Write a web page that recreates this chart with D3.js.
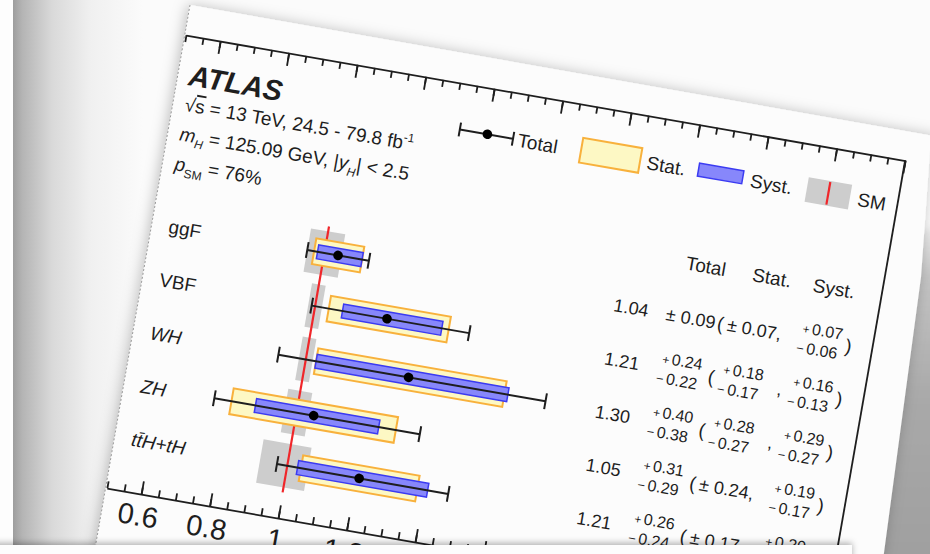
<!DOCTYPE html>
<html>
<head>
<meta charset="utf-8">
<script src="https://cdn.jsdelivr.net/npm/d3@7"></script>
<style>
  html, body { margin: 0; padding: 0; background: #fbfbfb; overflow: hidden; }
  svg text { font-family: "Liberation Sans", Arial, Helvetica, sans-serif; fill: #1e1e1e; }
</style>
</head>
<body>
<svg id="chart" width="930" height="554"></svg>
<script>
// Production-mode signal strengths, ATLAS Run 2 combination
const categories   = ["ggF", "VBF", "WH", "ZH", "ttH+tH"];
const centralValue = [1.04, 1.21, 1.30, 1.05, 1.21];
const totalUp      = [0.09, 0.24, 0.40, 0.31, 0.26];
const totalDown    = [0.09, 0.22, 0.38, 0.29, 0.24];
const statUp       = [0.07, 0.18, 0.28, 0.24, 0.17];
const statDown     = [0.07, 0.17, 0.27, 0.24, 0.17];
const systUp       = [0.07, 0.16, 0.29, 0.19, 0.20];
const systDown     = [0.06, 0.13, 0.27, 0.17, 0.18];
// SM prediction uncertainty around 1
const smUp         = [0.05, 0.02, 0.02, 0.035, 0.06];
const smDown       = [0.05, 0.02, 0.02, 0.035, 0.08];
const majorTicks   = [0.6, 0.8, 1, 1.2, 1.4, 1.6, 1.8, 2, 2.2, 2.4, 2.6];
const xDomain      = [0.5, 2.6];
const infoLines    = ["13 TeV, 24.5 - 79.8 fb", "125.09 GeV, |", "76%"];

const svg = d3.select("#chart");
const defs = svg.append("defs");

// ---------- paper / desk backdrop ----------
const lg = defs.append("linearGradient").attr("id", "leftShade").attr("x1", 0).attr("x2", 1).attr("y1", 0).attr("y2", 0);
[[0, "#9d9d9d"], [0.07, "#b4b4b4"], [0.3, "#d9d9d9"], [0.6, "#f0f0f0"], [1, "#fbfbfb"]]
  .forEach(([o, c]) => lg.append("stop").attr("offset", o).attr("stop-color", c));

const rg = defs.append("linearGradient").attr("id", "rightShade").attr("x1", 0).attr("x2", 0).attr("y1", 0).attr("y2", 1);
[[0, "#efefef"], [0.15, "#c4c4c4"], [0.5, "#a9a9a9"], [1, "#9f9f9f"]]
  .forEach(([o, c]) => rg.append("stop").attr("offset", o).attr("stop-color", c));

const shadow = defs.append("filter").attr("id", "pageShadow").attr("x", -0.2).attr("y", -0.2).attr("width", 1.4).attr("height", 1.4);
shadow.append("feDropShadow").attr("dx", -2).attr("dy", 0).attr("stdDeviation", 7)
  .attr("flood-color", "#000").attr("flood-opacity", 0.25);

const soft = defs.append("filter").attr("id", "soft").attr("x", -0.3).attr("y", -0.3).attr("width", 1.6).attr("height", 1.6);
soft.append("feGaussianBlur").attr("stdDeviation", 3);

const bandShadow = defs.append("filter").attr("id", "bandShadow").attr("x", -0.1).attr("y", -2).attr("width", 1.2).attr("height", 5);
bandShadow.append("feDropShadow").attr("dx", 0).attr("dy", -2).attr("stdDeviation", 3)
  .attr("flood-color", "#000").attr("flood-opacity", 0.3);

svg.append("rect").attr("width", 930).attr("height", 554).attr("fill", "#fbfbfb");
svg.append("rect").attr("x", 13).attr("width", 130).attr("height", 554).attr("fill", "url(#leftShade)");
svg.append("rect").attr("x", 0).attr("width", 13).attr("height", 554).attr("fill", "#fdfdfd");

svg.append("polygon")
  .attr("points", "905,235 940,225 940,570 865,570")
  .attr("fill", "url(#rightShade)")
  .attr("filter", "url(#soft)");

// the sheet carrying the figure
svg.append("polygon")
  .attr("points", "190,5 945,138 930,150 921,277 883,560 93,560")
  .attr("fill", "#fcfcfc")
  .attr("filter", "url(#pageShadow)");
svg.append("line")
  .attr("x1", 190).attr("y1", 5).attr("x2", 93).attr("y2", 560)
  .attr("stroke", "#9a9a9a").attr("stroke-width", 1).attr("stroke-dasharray", "2,2");

// ---------- figure, in its own frame ----------
const W = 730, H = 460;
const fig = svg.append("g").attr("transform", "translate(186,35) rotate(9.9)");

const x = d3.scaleLinear().domain(xDomain).range([0, W]);
const y = d3.scalePoint().domain(categories).range([191, 407]);
const minorTicks = d3.ticks(xDomain[0], xDomain[1], 42);
const fmtTick = d3.format("~g");
const fmt2 = d3.format(".2f");
const INK = "#1e1e1e";

function styleAxis(g) {
  g.selectAll("path, line").attr("stroke", INK).attr("stroke-width", 1.8);
}

// top edge
fig.append("g").call(d3.axisBottom(x).tickValues(minorTicks).tickSize(7).tickSizeOuter(0).tickFormat(""))
  .call(styleAxis);
fig.append("g").call(d3.axisBottom(x).tickValues(majorTicks).tickSize(13).tickSizeOuter(0).tickFormat(""))
  .call(styleAxis).select(".domain").remove();

// bottom edge with labels
fig.append("g").attr("transform", `translate(0,${H})`)
  .call(d3.axisBottom(x).tickValues(minorTicks).tickSize(-7).tickSizeOuter(0).tickFormat(""))
  .call(styleAxis);
const bottomAxis = fig.append("g").attr("transform", `translate(0,${H})`)
  .call(d3.axisBottom(x).tickValues(majorTicks).tickSize(-13).tickSizeOuter(0).tickPadding(11).tickFormat(fmtTick))
  .call(styleAxis);
bottomAxis.select(".domain").remove();
bottomAxis.selectAll("text").attr("font-size", 29).attr("fill", INK)
  .style("font-family", "'Liberation Sans', Arial, sans-serif");

// right edge
fig.append("line").attr("x1", W).attr("x2", W).attr("y1", 0).attr("y2", H)
  .attr("stroke", INK).attr("stroke-width", 1.8);

// ---------- rows ----------
const rows = categories.map((c, i) => ({
  cat: c, v: centralValue[i],
  tU: totalUp[i], tD: totalDown[i], sU: statUp[i], sD: statDown[i],
  yU: systUp[i], yD: systDown[i], mU: smUp[i], mD: smDown[i]
}));

// SM band
fig.selectAll("rect.sm").data(rows).join("rect").attr("class", "sm")
  .attr("x", d => x(1 - d.mD)).attr("width", d => x(1 + d.mU) - x(1 - d.mD))
  .attr("y", d => y(d.cat) - 22).attr("height", 44)
  .attr("fill", "#cdcdcd");

// SM line
fig.append("line")
  .attr("x1", x(1)).attr("x2", x(1))
  .attr("y1", y(categories[0]) - 27).attr("y2", y(categories[categories.length - 1]) + 27)
  .attr("stroke", "#f0262a").attr("stroke-width", 2.2);

// statistical
fig.selectAll("rect.stat").data(rows).join("rect").attr("class", "stat")
  .attr("x", d => x(d.v - d.sD)).attr("width", d => x(d.v + d.sU) - x(d.v - d.sD))
  .attr("y", d => y(d.cat) - 13).attr("height", 26)
  .attr("fill", "#fdf8c4").attr("stroke", "#f8b13c").attr("stroke-width", 2);

// systematic
fig.selectAll("rect.syst").data(rows).join("rect").attr("class", "syst")
  .attr("x", d => x(d.v - d.yD)).attr("width", d => x(d.v + d.yU) - x(d.v - d.yD))
  .attr("y", d => y(d.cat) - 7).attr("height", 14)
  .attr("fill", "#8787fb").attr("stroke", "#3b3bf2").attr("stroke-width", 1.5);

// total
const tot = fig.selectAll("g.tot").data(rows).join("g").attr("class", "tot");
tot.append("line")
  .attr("x1", d => x(d.v - d.tD)).attr("x2", d => x(d.v + d.tU))
  .attr("y1", d => y(d.cat)).attr("y2", d => y(d.cat))
  .attr("stroke", INK).attr("stroke-width", 2);
[["tD", -1], ["tU", 1]].forEach(([k, s]) => {
  tot.append("line")
    .attr("x1", d => x(d.v + s * d[k])).attr("x2", d => x(d.v + s * d[k]))
    .attr("y1", d => y(d.cat) - 8).attr("y2", d => y(d.cat) + 8)
    .attr("stroke", INK).attr("stroke-width", 2);
});
tot.append("circle").attr("cx", d => x(d.v)).attr("cy", d => y(d.cat)).attr("r", 4.8).attr("fill", "#000");

// row labels
fig.selectAll("text.cat").data(rows).join("text").attr("class", "cat")
  .attr("x", 16).attr("y", d => y(d.cat) + 7).attr("font-size", 19)
  .attr("font-style", d => (d.cat === "ggF" || d.cat === "VBF") ? "normal" : "italic")
  .text(d => d.cat === "ttH+tH" ? "tt\u0304H+tH" : d.cat);

// ---------- numbers column ----------
const U = { value: 503, total: 522, open: 573, stat: 584, comma: 643, syst: 655, close: 703 };
fig.append("text").attr("x", 552).attr("y", 145).attr("font-size", 19).attr("text-anchor", "middle").text("Total");
fig.append("text").attr("x", 619).attr("y", 145).attr("font-size", 19).attr("text-anchor", "middle").text("Stat.");
fig.append("text").attr("x", 682).attr("y", 145).attr("font-size", 19).attr("text-anchor", "middle").text("Syst.");

function errText(g, u, up, down, yc, trailing) {
  if (up === down) {
    g.append("text").attr("x", u - 1).attr("y", yc + 6.5).attr("font-size", 18)
      .text("\u00b1 " + fmt2(up) + (trailing || ""));
  } else {
    const sup = g.append("text").attr("x", u + 3).attr("y", yc - 4.5).attr("font-size", 16);
    sup.append("tspan").attr("font-size", 12).text("+\u2009");
    sup.append("tspan").text(fmt2(up));
    const sub = g.append("text").attr("x", u).attr("y", yc + 15.5).attr("font-size", 16);
    sub.append("tspan").attr("font-size", 13).text("\u2212\u2009");
    sub.append("tspan").text(fmt2(down));
    if (trailing) g.append("text").attr("x", U.comma).attr("y", yc + 7).attr("font-size", 18).text(trailing);
  }
}

rows.forEach(d => {
  const yc = y(d.cat) + 1;
  const g = fig.append("g");
  g.append("text").attr("x", U.value).attr("y", yc + 6.5).attr("font-size", 18)
    .attr("text-anchor", "end").text(fmt2(d.v));
  errText(g, U.total, d.tU, d.tD, yc, "");
  g.append("text").attr("x", U.open).attr("y", yc + 7).attr("font-size", 19).text("(");
  errText(g, U.stat, d.sU, d.sD, yc, ",");
  errText(g, U.syst, d.yU, d.yD, yc, "");
  g.append("text").attr("x", U.close).attr("y", yc + 7).attr("font-size", 19).text(")");
});

// ---------- ATLAS label and run conditions ----------
fig.append("text").attr("x", 10).attr("y", 49).attr("font-size", 29)
  .attr("font-weight", "bold").attr("font-style", "italic").text("ATLAS");

const l1 = fig.append("text").attr("x", 11).attr("y", 75).attr("font-size", 19);
l1.append("tspan").text("\u221a");
l1.append("tspan").style("text-decoration", "overline").text("s");
l1.append("tspan").text(" = " + infoLines[0]);
l1.append("tspan").attr("dy", -8).attr("font-size", 12).text("-1");

const l2 = fig.append("text").attr("x", 11).attr("y", 105).attr("font-size", 19);
l2.append("tspan").attr("font-style", "italic").text("m");
l2.append("tspan").attr("font-style", "italic").attr("font-size", 12).attr("dy", 5).text("H");
l2.append("tspan").attr("dy", -5).text(" = " + infoLines[1]);
l2.append("tspan").attr("font-style", "italic").text("y");
l2.append("tspan").attr("font-style", "italic").attr("font-size", 12).attr("dy", 6).text("H");
l2.append("tspan").attr("dy", -6).text("| < 2.5");

const l3 = fig.append("text").attr("x", 11).attr("y", 135).attr("font-size", 19);
l3.append("tspan").attr("font-style", "italic").text("p");
l3.append("tspan").attr("font-size", 12).attr("dy", 6).text("SM");
l3.append("tspan").attr("dy", -6).text(" = " + infoLines[2]);

// ---------- legend ----------
const leg = fig.append("g");
leg.append("line").attr("x1", 286).attr("x2", 340).attr("y1", 46).attr("y2", 46).attr("stroke", INK).attr("stroke-width", 2);
[286, 340].forEach(u => leg.append("line").attr("x1", u).attr("x2", u).attr("y1", 39).attr("y2", 53).attr("stroke", INK).attr("stroke-width", 2));
leg.append("circle").attr("cx", 314).attr("cy", 46).attr("r", 4.8).attr("fill", "#000");
leg.append("text").attr("x", 345).attr("y", 53).attr("font-size", 19).text("Total");

leg.append("rect").attr("x", 409).attr("y", 33).attr("width", 60).attr("height", 25)
  .attr("fill", "#fdf8c4").attr("stroke", "#f8b13c").attr("stroke-width", 2);
leg.append("text").attr("x", 476).attr("y", 53).attr("font-size", 19).text("Stat.");

leg.append("rect").attr("x", 528).attr("y", 38).attr("width", 45).attr("height", 13)
  .attr("fill", "#8787fb").attr("stroke", "#3b3bf2").attr("stroke-width", 1.5);
leg.append("text").attr("x", 581).attr("y", 53).attr("font-size", 19).text("Syst.");

leg.append("rect").attr("x", 638).attr("y", 33).attr("width", 44).attr("height", 25).attr("fill", "#cdcdcd");
leg.append("line").attr("x1", 660).attr("x2", 660).attr("y1", 34).attr("y2", 57).attr("stroke", "#f0262a").attr("stroke-width", 2.2);
leg.append("text").attr("x", 690).attr("y", 53).attr("font-size", 19).text("SM");

// ---------- strip of paper lying across the bottom ----------
svg.append("rect").attr("x", -10).attr("y", 545).attr("width", 862).attr("height", 20)
  .attr("fill", "#fdfdfd").attr("filter", "url(#bandShadow)");
</script>
</body>
</html>
